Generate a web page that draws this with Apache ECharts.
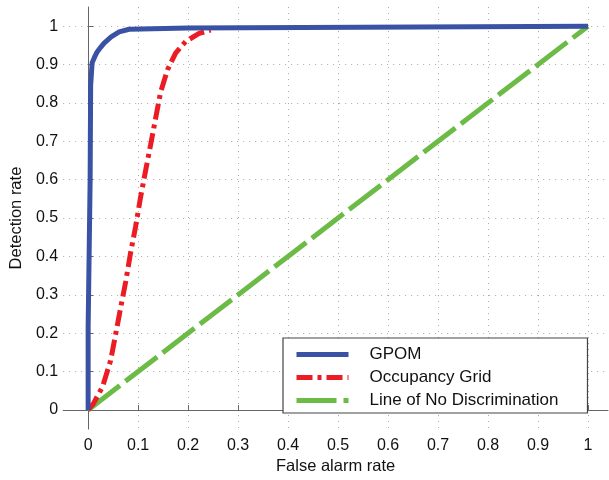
<!DOCTYPE html>
<html>
<head>
<meta charset="utf-8">
<script src="https://cdn.jsdelivr.net/npm/echarts@6/dist/echarts.min.js"></script>
<style>
  html, body { margin: 0; padding: 0; background: #fff; }
  #roc { width: 609px; height: 480px; }
</style>
</head>
<body>
<div id="roc"></div>
<script>
// ROC curves
var gpomX = [0, 0, 0.003, 0.004, 0.005, 0.008, 0.013, 0.018, 0.025, 0.032, 0.046, 0.062, 0.082, 0.2, 0.2, 1];
var gpomY = [0, 0.215, 0.22, 0.6, 0.845, 0.905, 0.92, 0.933, 0.945, 0.956, 0.972, 0.985, 0.992, 0.995, 1, 1];

var occX = [0, 0.01, 0.029, 0.045, 0.055, 0.065, 0.075, 0.085, 0.095, 0.105, 0.115, 0.125, 0.135, 0.145, 0.159, 0.175, 0.195, 0.222, 0.245];
var occY = [0, 0.015, 0.061, 0.129, 0.197, 0.266, 0.333, 0.41, 0.478, 0.555, 0.624, 0.691, 0.76, 0.828, 0.887, 0.93, 0.96, 0.981, 0.99];

var chanceX = [0, 1];
var chanceY = [0, 1];

var xTicks = [0, 0.1, 0.2, 0.3, 0.4, 0.5, 0.6, 0.7, 0.8, 0.9, 1];
var yTicks = [0, 0.1, 0.2, 0.3, 0.4, 0.5, 0.6, 0.7, 0.8, 0.9, 1];

var seriesNames = ['GPOM', 'Occupancy Grid', 'Line of No Discrimination'];

function pairs(xs, ys) {
    return xs.map(function (x, i) { return [x, ys[i]]; });
}

var roc_chart = echarts.init(document.getElementById('roc'));

var axisColor = '#666';
var font = 'Arial, "Liberation Sans", sans-serif';

var roc_option = {
    animation: false,
    textStyle: { fontFamily: font },
    grid: {
        left: 63,
        right: 1,
        top: 7,
        bottom: 43
    },
    legend: {
        data: seriesNames,
        orient: 'vertical',
        left: 283,
        top: 338,
        itemWidth: 52,
        itemHeight: 14,
        itemGap: 6,
        padding: [8, 29, 4, 11],
        backgroundColor: '#fff',
        borderColor: '#444',
        borderWidth: 1.2,
        borderRadius: 0,
        // hide the marker, keep only the line sample
        itemStyle: { opacity: 0 },
        lineStyle: { width: 5 },
        textStyle: {
            fontSize: 17,
            lineHeight: 17,
            color: '#111',
            padding: [0, 0, 0, 16]
        }
    },
    xAxis: {
        type: 'value',
        min: -0.05,
        max: 1.04,
        name: 'False alarm rate',
        nameLocation: 'middle',
        nameGap: 27,
        nameTextStyle: { fontSize: 16.5, color: '#111' },
        axisLine: { lineStyle: { color: axisColor, width: 1 } },
        axisTick: { inside: true, length: 5, customValues: xTicks, lineStyle: { color: axisColor } },
        axisLabel: { customValues: xTicks, fontSize: 16, color: '#111', margin: 8 },
        splitLine: { show: true, lineStyle: { color: '#aaa', type: [1, 5], width: 1 } }
    },
    yAxis: {
        type: 'value',
        min: -0.05,
        max: 1.05,
        name: 'Detection rate',
        nameLocation: 'middle',
        nameRotate: 90,
        nameGap: 38,
        nameTextStyle: { fontSize: 16.5, color: '#111' },
        axisLine: { show: true, lineStyle: { color: axisColor, width: 1 } },
        axisTick: { show: true, inside: true, length: 5, customValues: yTicks, lineStyle: { color: axisColor } },
        axisLabel: { customValues: yTicks, fontSize: 16, color: '#111', margin: 5 },
        splitLine: { show: true, lineStyle: { color: '#aaa', type: [1, 5], width: 1 } }
    },
    series: [
        {
            name: 'Line of No Discrimination',
            type: 'line',
            symbol: 'none',
            data: pairs(chanceX, chanceY),
            lineStyle: { color: '#6cbb46', width: 5, type: [40, 7] },
            itemStyle: { color: '#6cbb46' },
            z: 2
        },
        {
            name: 'Occupancy Grid',
            type: 'line',
            symbol: 'none',
            data: pairs(occX, occY),
            lineStyle: { color: '#ec1c24', width: 5, type: [16, 5, 4, 5] },
            itemStyle: { color: '#ec1c24' },
            z: 3
        },
        {
            name: 'GPOM',
            type: 'line',
            symbol: 'none',
            data: pairs(gpomX, gpomY),
            lineStyle: { color: '#3a52a3', width: 5 },
            itemStyle: { color: '#3a52a3' },
            z: 4
        }
    ]
};

roc_chart.setOption(roc_option);
</script>
</body>
</html>
